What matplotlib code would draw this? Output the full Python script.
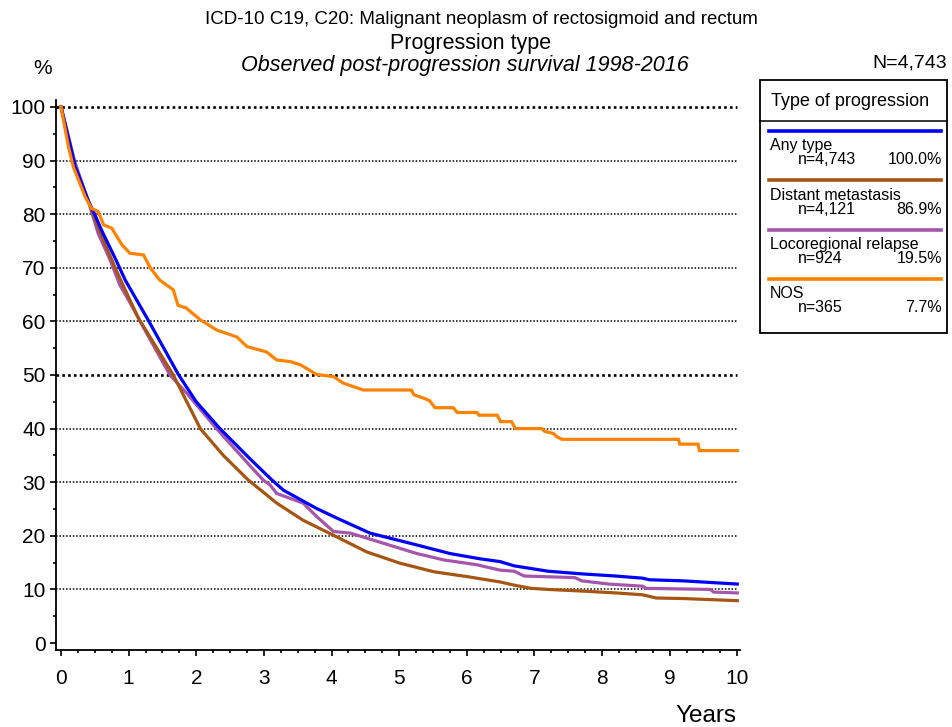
import numpy as np
import matplotlib
matplotlib.use("Agg")
import matplotlib.pyplot as plt
from matplotlib.lines import Line2D
from matplotlib.patches import Rectangle

plt.rcParams['font.family'] = ['Liberation Sans', 'DejaVu Sans']

# survival curves (years, % surviving)
any_t = [0, 0.21, 0.40, 0.48, 0.60, 0.80, 0.95, 1.30, 1.74, 2.00, 2.35, 2.80, 3.12, 3.29, 3.78, 4.08,
         4.57, 5.26, 5.75, 6.20, 6.49, 6.70, 7.20, 7.70, 8.20, 8.60, 8.70, 9.20, 10.0]
any_v = [100, 88.9, 82.6, 80.5, 77.0, 71.8, 67.7, 60.0, 50.0, 45.0, 40.0, 34.3, 30.4, 28.5, 25.1, 23.3,
         20.5, 18.3, 16.7, 15.7, 15.2, 14.4, 13.4, 12.9, 12.5, 12.1, 11.8, 11.6, 11.0]

dist_t = [0, 0.21, 0.40, 0.55, 0.80, 1.00, 1.15, 1.66, 2.06, 2.40, 2.77, 3.19, 3.58, 4.03, 4.52, 5.01,
          5.51, 6.00, 6.49, 6.70, 6.95, 7.20, 7.70, 8.20, 8.60, 8.80, 9.20, 10.0]
dist_v = [100, 88.9, 82.6, 77.5, 70.0, 64.5, 60.5, 50.0, 40.0, 35.0, 30.4, 26.1, 22.9, 20.1, 17.0, 14.9,
          13.3, 12.4, 11.4, 10.8, 10.2, 10.0, 9.7, 9.35, 9.0, 8.4, 8.3, 7.9]

loco_t = [0, 0.21, 0.40, 0.55, 0.725, 0.87, 1.02, 1.17, 1.61, 1.86, 2.30, 2.80, 2.99, 3.09, 3.19, 3.58, 3.78,
          4.03, 4.28, 4.77, 5.26, 5.66, 6.15, 6.49, 6.70, 6.85, 7.60, 7.70, 8.10, 8.60, 8.65, 9.60, 9.65, 10.0]
loco_v = [100, 89.5, 82.6, 76.4, 71.5, 66.8, 63.5, 60.0, 50.0, 46.6, 40.0, 33.0, 30.4, 29.5, 27.9, 26.1, 23.6,
          20.8, 20.5, 18.6, 16.7, 15.5, 14.6, 13.6, 13.4, 12.5, 12.2, 11.6, 11.0, 10.6, 10.2, 10.0, 9.5, 9.35]

nos_t = [0, 0.11, 0.18, 0.355, 0.45, 0.55, 0.63, 0.75, 0.90, 1.02, 1.22, 1.32, 1.46, 1.66, 1.73, 1.85,
         2.06, 2.30, 2.60, 2.75, 3.04, 3.19, 3.39, 3.54, 3.78, 4.03, 4.17, 4.47, 5.18, 5.22, 5.38,
         5.45, 5.53, 5.80, 5.86, 6.15, 6.18, 6.45, 6.50, 6.66, 6.72, 7.11, 7.15, 7.28, 7.33, 7.41, 9.13,
         9.15, 9.42, 9.44, 10.0]
nos_v = [100, 92.6, 88.9, 83.3, 81.1, 80.5, 78.0, 77.4, 74.3, 72.7, 72.4, 70.0, 67.7, 65.9, 63.0, 62.5,
         60.3, 58.4, 57.1, 55.3, 54.3, 52.8, 52.5, 51.9, 50.1, 49.7, 48.5, 47.2, 47.2, 46.3, 45.6,
         45.2, 43.9, 43.9, 43.0, 43.0, 42.5, 42.5, 41.3, 41.3, 40.0, 40.0, 39.5, 39.1, 38.5, 38.0, 38.0,
         37.1, 37.1, 35.9, 35.9]

names = ['Any type', 'Distant metastasis', 'Locoregional relapse', 'NOS']
counts = ['n=4,743', 'n=4,121', 'n=924', 'n=365']
shares = ['100.0%', '86.9%', '19.5%', '7.7%']
colors = ['#0000FF', '#A65512', '#A555AC', '#FF8200']
series = [(any_t, any_v), (dist_t, dist_v), (loco_t, loco_v), (nos_t, nos_v)]
zorders = [4, 3, 2, 5]

W, H = 953, 727
fig = plt.figure(figsize=(W / 100, H / 100), dpi=100)

def fx(px):
    return px / W

def fy(py):
    return 1 - py / H

ax = fig.add_axes([fx(56), fy(650), fx(740) - fx(56), fy(100) - fy(650)])
ax.set_xlim(-0.074, 10.04)
ax.set_ylim(-1.3, 101.3)

for y in range(10, 101, 10):
    bold = y in (50, 100)
    ax.hlines(y, -0.074, 10, colors='black', linewidth=1.9 if bold else 1.1,
              linestyles=(0, (1, 1.2)), zorder=1)

for (t, v), c, z in zip(series, colors, zorders):
    ax.plot(t, v, color=c, linewidth=2.3, zorder=z, solid_joinstyle='miter')

ax.spines['top'].set_visible(False)
ax.spines['right'].set_visible(False)
for s in ('left', 'bottom'):
    ax.spines[s].set_linewidth(1.3)

ax.set_xticks(range(0, 11))
ax.set_xticks(np.arange(0, 10.01, 0.25), minor=True)
ax.set_yticks(range(0, 101, 10))
ax.set_yticks(range(5, 100, 10), minor=True)
ax.tick_params(axis='x', which='major', length=4.5, width=1.2, pad=9.5, labelsize=15)
ax.tick_params(axis='x', which='minor', length=2.5, width=1.2)
ax.tick_params(axis='y', which='major', length=4.5, width=1.2, pad=3, labelsize=15)
ax.tick_params(axis='y', which='minor', length=2.5, width=1.2)

# titles and axis captions
fig.text(fx(481), fy(20), 'ICD-10 C19, C20: Malignant neoplasm of rectosigmoid and rectum',
         ha='center', va='center', fontsize=13.5)
fig.text(fx(471), fy(43), 'Progression type', ha='center', va='center', fontsize=15.5)
fig.text(fx(465), fy(66), 'Observed post-progression survival 1998-2016', ha='center', va='center',
         fontsize=15.5, style='italic')
fig.text(fx(43), fy(68), '%', ha='center', va='center', fontsize=15)
fig.text(fx(947), fy(63), 'N=4,743', ha='right', va='center', fontsize=14)
fig.text(fx(736), fy(716), 'Years', ha='right', va='center', fontsize=17.5)

# legend box
fig.add_artist(Rectangle((fx(760), fy(333)), fx(947) - fx(760), fy(80) - fy(333),
                         transform=fig.transFigure, facecolor='white', edgecolor='black', linewidth=1.3))
fig.add_artist(Line2D([fx(760), fx(947)], [fy(121), fy(121)], transform=fig.transFigure,
                      color='black', linewidth=1.1))
fig.text(fx(771), fy(101), 'Type of progression', ha='left', va='center', fontsize=13)
for i, (nm, cn, sh, c) in enumerate(zip(names, counts, shares, colors)):
    y0 = 130.5 + i * 49.5
    fig.add_artist(Line2D([fx(769), fx(941)], [fy(y0), fy(y0)], transform=fig.transFigure,
                          color=c, linewidth=2.6))
    fig.text(fx(770), fy(y0 + 15), nm, ha='left', va='center', fontsize=11.5)
    fig.text(fx(798), fy(y0 + 29), cn, ha='left', va='center', fontsize=11.5)
    fig.text(fx(942), fy(y0 + 29), sh, ha='right', va='center', fontsize=11.5)

fig.savefig('out.png', dpi=100)
